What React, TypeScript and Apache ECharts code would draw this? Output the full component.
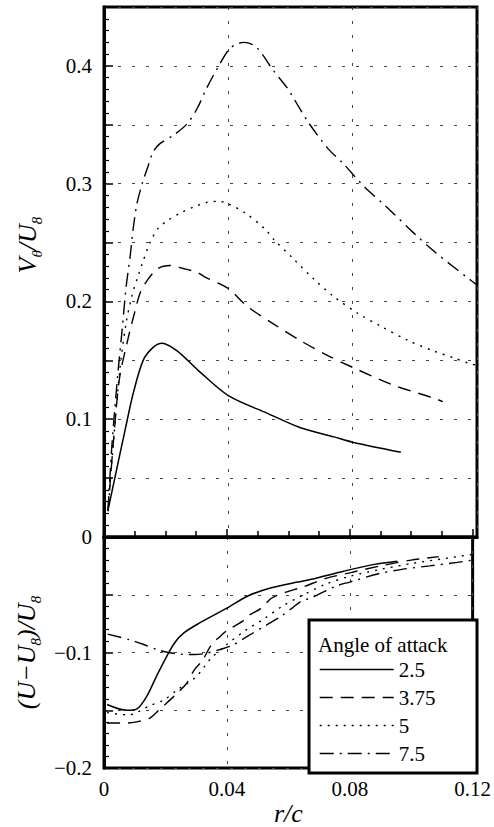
import React, { useEffect, useRef } from "react";
import * as echarts from "echarts";

// Angles of attack (deg) shown in the legend
const angleNames = ["2.5", "3.75", "5", "7.5"];

// Tangential velocity V_theta/U_inf versus r/c
const vtX25 = [0.0013, 0.0042, 0.0068, 0.0094, 0.0126, 0.0158, 0.0187, 0.0235, 0.0303, 0.04, 0.0526, 0.063, 0.074, 0.08, 0.0955];
const vtY25 = [0.023, 0.059, 0.091, 0.122, 0.15, 0.161, 0.1645, 0.158, 0.1415, 0.12, 0.105, 0.093, 0.085, 0.0805, 0.072];

const vtX375 = [0.0013, 0.003, 0.005, 0.0077, 0.009, 0.01, 0.0116, 0.0142, 0.0174, 0.0213, 0.0255, 0.03, 0.033, 0.04, 0.046, 0.0545, 0.063, 0.072, 0.08, 0.093, 0.106, 0.109];
const vtY375 = [0.022, 0.08, 0.135, 0.168, 0.182, 0.192, 0.207, 0.219, 0.228, 0.2305, 0.228, 0.2246, 0.22, 0.211, 0.196, 0.181, 0.167, 0.154, 0.144, 0.129, 0.118, 0.115];

const vtX5 = [0.0013, 0.003, 0.005, 0.007, 0.009, 0.011, 0.0123, 0.0148, 0.0174, 0.0206, 0.0245, 0.0287, 0.033, 0.037, 0.04, 0.0455, 0.052, 0.0545, 0.061, 0.0675, 0.074, 0.0816, 0.089, 0.0977, 0.106, 0.1126, 0.118, 0.12];
const vtY5 = [0.022, 0.08, 0.14, 0.18, 0.205, 0.222, 0.232, 0.25, 0.262, 0.269, 0.275, 0.28, 0.284, 0.285, 0.283, 0.275, 0.261, 0.253, 0.236, 0.219, 0.204, 0.19, 0.179, 0.167, 0.158, 0.152, 0.147, 0.146];

const vtX75 = [0.0013, 0.0026, 0.0045, 0.0058, 0.0071, 0.0084, 0.0094, 0.0106, 0.0123, 0.0142, 0.0158, 0.018, 0.0223, 0.0268, 0.03, 0.033, 0.0365, 0.0406, 0.045, 0.049, 0.0545, 0.059, 0.0655, 0.072, 0.077, 0.0835, 0.091, 0.0997, 0.106, 0.1126, 0.117, 0.12];
const vtY75 = [0.023, 0.08, 0.14, 0.175, 0.212, 0.238, 0.262, 0.283, 0.3, 0.315, 0.327, 0.334, 0.341, 0.351, 0.364, 0.381, 0.398, 0.415, 0.42, 0.416, 0.396, 0.381, 0.353, 0.33, 0.317, 0.298, 0.28, 0.258, 0.243, 0.229, 0.22, 0.214];

// Axial velocity deficit (U - U_inf)/U_inf versus r/c
const udX25 = [0.001, 0.0074, 0.0106, 0.0139, 0.017, 0.0203, 0.023, 0.026, 0.031, 0.0397, 0.047, 0.0545, 0.063, 0.0675, 0.078, 0.088, 0.0955];
const udY25 = [-0.145, -0.15, -0.149, -0.138, -0.121, -0.104, -0.0915, -0.083, -0.0746, -0.062, -0.0508, -0.044, -0.039, -0.0366, -0.0296, -0.0237, -0.021];

const udX375 = [0.001, 0.0074, 0.0106, 0.0148, 0.0174, 0.0235, 0.0268, 0.0294, 0.032, 0.035, 0.0374, 0.04, 0.045, 0.047, 0.051, 0.0545, 0.059, 0.065, 0.072, 0.08, 0.09, 0.1, 0.109];
const udY375 = [-0.161, -0.161, -0.16, -0.157, -0.151, -0.136, -0.127, -0.115, -0.107, -0.093, -0.087, -0.081, -0.073, -0.068, -0.062, -0.053, -0.048, -0.043, -0.036, -0.031, -0.025, -0.02, -0.017];

const udX5 = [0.001, 0.008, 0.0148, 0.0195, 0.024, 0.03, 0.0345, 0.04, 0.0465, 0.052, 0.058, 0.065, 0.072, 0.08, 0.09, 0.1, 0.11, 0.12];
const udY5 = [-0.152, -0.154, -0.146, -0.141, -0.132, -0.121, -0.106, -0.093, -0.08, -0.071, -0.06, -0.05, -0.041, -0.034, -0.028, -0.023, -0.019, -0.015];

const udX75 = [0.0012, 0.0084, 0.0123, 0.0174, 0.021, 0.0255, 0.0294, 0.033, 0.037, 0.0416, 0.046, 0.053, 0.0574, 0.061, 0.064, 0.068, 0.076, 0.08, 0.089, 0.097, 0.106, 0.115, 0.12];
const udY75 = [-0.084, -0.089, -0.0924, -0.0975, -0.1, -0.1015, -0.1017, -0.1008, -0.098, -0.094, -0.087, -0.076, -0.069, -0.062, -0.056, -0.052, -0.042, -0.039, -0.032, -0.028, -0.025, -0.022, -0.02];

// Axis tick values
const xTicks = [0, 0.04, 0.08, 0.12];
const vtLabels = [0, 0.1, 0.2, 0.3, 0.4];
const udLabels = [-0.1, -0.2];

const FONT = "Liberation Serif";
const dashes: any[] = ["solid", [13, 8], [2, 6], [14, 6, 2, 6]];

const pairs = (xs: number[], ys: number[]) => xs.map((x, i) => [x, ys[i]]);
const near = (v: number, list: number[]) => list.some((t) => Math.abs(t - v) < 1e-6);

export default function App() {
  const ref = useRef<HTMLDivElement>(null);

  useEffect(() => {
    if (!ref.current) return;
    const chart = echarts.init(ref.current, undefined, { renderer: "svg" });

    const gridLine = { show: true, lineStyle: { color: "#444", width: 1, type: [3, 11] as any } };
    const axisLabel = { fontFamily: FONT, fontSize: 21, color: "#000" };
    const richName = {
      i: { fontFamily: FONT, fontStyle: "italic", fontSize: 26, lineHeight: 34, color: "#000" },
      s: { fontFamily: FONT, fontStyle: "italic", fontSize: 15, lineHeight: 13, verticalAlign: "bottom", color: "#000" },
    };

    const vtData = [pairs(vtX25, vtY25), pairs(vtX375, vtY375), pairs(vtX5, vtY5), pairs(vtX75, vtY75)];
    const udData = [pairs(udX25, udY25), pairs(udX375, udY375), pairs(udX5, udY5), pairs(udX75, udY75)];

    const mkSeries = (data: number[][][], axisIndex: number) =>
      data.map((d, k) => ({
        type: "line",
        name: angleNames[k],
        xAxisIndex: axisIndex,
        yAxisIndex: axisIndex,
        data: d,
        smooth: 0.3,
        symbol: "none",
        color: "#000",
        lineStyle: { color: "#000", width: k === 0 ? 1.5 : 1.4, type: dashes[k] },
        z: 2,
      }));

    chart.setOption({
      animation: false,
      backgroundColor: "#fff",
      grid: [
        { left: 104, top: 7, width: 373, height: 530, show: true, borderColor: "#000", borderWidth: 3 },
        { left: 104, top: 537, width: 373, height: 236, show: true, borderColor: "#000", borderWidth: 3 },
      ],
      xAxis: [
        {
          type: "value", gridIndex: 0, min: 0, max: 0.12, interval: 0.04,
          axisLine: { show: true, lineStyle: { color: "#000", width: 3 } },
          axisTick: { show: false }, axisLabel: { show: false },
          splitLine: gridLine,
        },
        {
          type: "value", gridIndex: 1, min: 0, max: 0.12, interval: 0.04,
          axisLine: { show: true, lineStyle: { color: "#000", width: 3 } },
          axisTick: { show: true, inside: true, length: 8, lineStyle: { color: "#000", width: 1.5 } },
          minorTick: { show: true, splitNumber: 4, length: 6, lineStyle: { color: "#000", width: 1.5 } },
          axisLabel: {
            ...axisLabel, margin: 10,
            formatter: (v: number) => (near(v, xTicks) ? (v === 0 ? "0" : v.toFixed(2)) : ""),
          },
          splitLine: gridLine,
          name: "{i|r/c}",
          nameLocation: "middle",
          nameGap: 30,
          nameTextStyle: { rich: { i: { fontFamily: FONT, fontStyle: "italic", fontSize: 26, color: "#000" } } },
        },
      ],
      yAxis: [
        {
          type: "value", gridIndex: 0, min: 0, max: 0.45, interval: 0.05,
          axisLine: { show: true, lineStyle: { color: "#000", width: 3 } },
          axisTick: { show: true, inside: true, length: 9, lineStyle: { color: "#000", width: 1.5 } },
          minorTick: { show: true, splitNumber: 5, length: 5, lineStyle: { color: "#000", width: 1.2 } },
          axisLabel: {
            ...axisLabel, margin: 12,
            formatter: (v: number) => (near(v, vtLabels) ? (v === 0 ? "0" : v.toFixed(1)) : ""),
          },
          splitLine: gridLine,
          name: "{i|V}{s|θ}{i|/U}{s|8}",
          nameLocation: "middle",
          nameRotate: 90,
          nameGap: 60,
          nameTextStyle: { rich: richName, padding: [0, 0, 0, 54] },
        },
        {
          type: "value", gridIndex: 1, min: -0.2, max: 0, interval: 0.05,
          axisLine: { show: true, lineStyle: { color: "#000", width: 3 } },
          axisTick: { show: true, inside: true, length: 9, lineStyle: { color: "#000", width: 1.5 } },
          minorTick: { show: true, splitNumber: 5, length: 5, lineStyle: { color: "#000", width: 1.2 } },
          axisLabel: {
            ...axisLabel, margin: 12,
            formatter: (v: number) => (near(v, udLabels) ? "\u2212" + Math.abs(v).toFixed(1) : ""),
          },
          splitLine: gridLine,
          name: "{i|(U\u2212U}{s|8}{i|)/U}{s|8}",
          nameLocation: "middle",
          nameRotate: 90,
          nameGap: 60,
          nameTextStyle: { rich: richName },
        },
      ],
      legend: {
        data: angleNames,
        orient: "vertical",
        left: 319,
        top: 659,
        itemWidth: 74,
        itemHeight: 14,
        itemGap: 7,
        selectedMode: false,
        padding: 0,
        itemStyle: { opacity: 0 },
        lineStyle: { color: "#000", width: 1.4 },
        textStyle: { fontFamily: FONT, fontSize: 21, color: "#000", lineHeight: 20 },
        z: 6,
      },
      graphic: [
        {
          type: "rect",
          z: 4,
          shape: { x: 309, y: 620, width: 168, height: 153 },
          style: { fill: "#fff", stroke: "#000", lineWidth: 3 },
        },
        {
          type: "text",
          z: 5,
          x: 318,
          y: 645,
          style: { text: "Angle of attack", font: `21px "${FONT}"`, fill: "#000", verticalAlign: "middle" },
        },
      ],
      series: [...mkSeries(vtData, 0), ...mkSeries(udData, 1)],
    });

    return () => chart.dispose();
  }, []);

  return (
    <div
      ref={ref}
      style={{ position: "fixed", left: 0, top: 0, width: 494, height: 827, background: "#fff" }}
    />
  );
}
